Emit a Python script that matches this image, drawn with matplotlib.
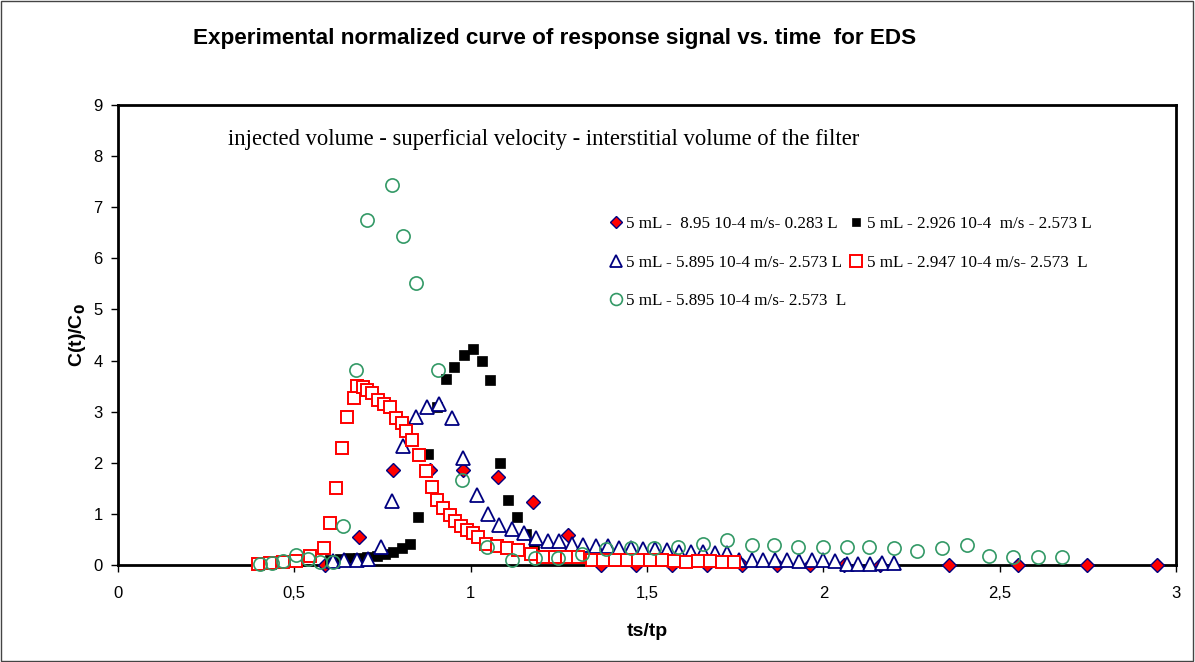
import matplotlib
matplotlib.use("Agg")
import matplotlib.pyplot as plt
from matplotlib.patches import Rectangle
from matplotlib.ticker import FuncFormatter

# ---------------- data ----------------
diam_x = [0.587, 0.683, 0.78, 0.885, 0.979, 1.078, 1.177, 1.277, 1.37, 1.47, 1.57, 1.67,
          1.77, 1.87, 1.962, 2.06, 2.16, 2.356, 2.553, 2.748, 2.947]
diam_y = [0.0, 0.55, 1.85, 1.86, 1.86, 1.73, 1.24, 0.59, 0.0, 0.0, 0.0, 0.0,
          0.0, 0.0, 0.0, 0.0, 0.0, 0.0, 0.0, 0.0, 0.0]

blk_x = [0.60, 0.63, 0.655, 0.68, 0.705, 0.733, 0.757, 0.78, 0.804, 0.828, 0.851, 0.88,
         0.904, 0.93, 0.954, 0.982, 1.006, 1.031, 1.055, 1.083, 1.107, 1.132, 1.157, 1.18]
blk_y = [0.10, 0.12, 0.13, 0.14, 0.15, 0.17, 0.21, 0.26, 0.33, 0.42, 0.94, 2.17,
         3.10, 3.63, 3.87, 4.11, 4.23, 3.99, 3.61, 2.00, 1.27, 0.93, 0.61, 0.40]

tri_x = [0.609, 0.642, 0.677, 0.708, 0.745, 0.778, 0.809, 0.845, 0.875, 0.911, 0.946, 0.979,
         1.017, 1.048, 1.081, 1.116, 1.151, 1.185, 1.218, 1.251, 1.286, 1.319, 1.355, 1.388,
         1.421, 1.456, 1.489, 1.523, 1.557, 1.591, 1.626, 1.659, 1.693, 1.726, 1.762, 1.797,
         1.83, 1.863, 1.898, 1.931, 1.967, 1.998, 2.033, 2.066, 2.099, 2.132, 2.165, 2.2]
tri_y = [0.07, 0.10, 0.10, 0.11, 0.36, 1.26, 2.33, 2.89, 3.10, 3.15, 2.87, 2.09,
         1.37, 0.99, 0.78, 0.70, 0.62, 0.52, 0.46, 0.46, 0.42, 0.40, 0.37, 0.37,
         0.34, 0.34, 0.31, 0.32, 0.29, 0.26, 0.26, 0.26, 0.24, 0.24, 0.10, 0.10,
         0.10, 0.10, 0.10, 0.07, 0.10, 0.10, 0.07, 0.02, 0.02, 0.02, 0.03, 0.03]

rsq_x = [0.398, 0.431, 0.467, 0.505, 0.544, 0.585, 0.601, 0.618, 0.634, 0.65, 0.669, 0.679,
         0.694, 0.707, 0.719, 0.736, 0.754, 0.771, 0.788, 0.804, 0.818, 0.835, 0.854, 0.873,
         0.889, 0.904, 0.921, 0.94, 0.955, 0.974, 0.989, 1.006, 1.022, 1.043, 1.074, 1.104,
         1.135, 1.17, 1.206, 1.239, 1.272, 1.305, 1.343, 1.374, 1.409, 1.442, 1.475, 1.508,
         1.542, 1.577, 1.61, 1.645, 1.678, 1.714, 1.747]
rsq_y = [0.01, 0.03, 0.05, 0.08, 0.17, 0.33, 0.82, 1.51, 2.28, 2.89, 3.26, 3.50,
         3.48, 3.42, 3.37, 3.23, 3.15, 3.09, 2.87, 2.77, 2.63, 2.45, 2.15, 1.83,
         1.53, 1.27, 1.11, 0.98, 0.87, 0.76, 0.68, 0.62, 0.55, 0.42, 0.37, 0.33,
         0.29, 0.22, 0.15, 0.15, 0.15, 0.15, 0.10, 0.10, 0.10, 0.10, 0.10, 0.10,
         0.10, 0.07, 0.05, 0.07, 0.07, 0.05, 0.05]

circ_x = [0.403, 0.436, 0.469, 0.505, 0.538, 0.573, 0.609, 0.637, 0.674, 0.706, 0.777, 0.808,
          0.845, 0.907, 0.975, 1.045, 1.116, 1.182, 1.248, 1.316, 1.385, 1.456, 1.52, 1.589,
          1.658, 1.726, 1.797, 1.86, 1.929, 1.998, 2.066, 2.13, 2.2, 2.267, 2.337, 2.406,
          2.47, 2.538, 2.608, 2.677]
circ_y = [0.01, 0.03, 0.08, 0.20, 0.12, 0.06, 0.06, 0.76, 3.82, 6.75, 7.44, 6.44,
          5.52, 3.82, 1.66, 0.36, 0.10, 0.13, 0.13, 0.22, 0.31, 0.34, 0.34, 0.36,
          0.41, 0.48, 0.39, 0.39, 0.36, 0.36, 0.36, 0.36, 0.33, 0.27, 0.33, 0.39,
          0.18, 0.15, 0.15, 0.15]

labels = ["5 mL -  8.95 10-4 m/s- 0.283 L",
          "5 mL - 2.926 10-4  m/s - 2.573 L",
          "5 mL - 5.895 10-4 m/s- 2.573 L",
          "5 mL - 2.947 10-4 m/s- 2.573  L",
          "5 mL - 5.895 10-4 m/s- 2.573  L"]

x_ticks = [0, 0.5, 1, 1.5, 2, 2.5, 3]
y_ticks = list(range(0, 10))

# ---------------- figure ----------------
plt.rcParams['font.family'] = ['Liberation Sans', 'DejaVu Sans']
fig = plt.figure(figsize=(11.95, 6.62), dpi=100)
ax = fig.add_axes([118 / 1195, 1 - 565 / 662, (1176 - 118) / 1195, (565 - 105) / 662])

navy = "#000080"
red = "#FF0000"
green = "#339966"

h1, = ax.plot(diam_x, diam_y, ls="none", marker="D", ms=7.3, mfc=red, mec=navy, mew=1.0, zorder=3,
              clip_on=False)
h2, = ax.plot(blk_x, blk_y, ls="none", marker="s", ms=6.8, mfc="black", mec="black", mew=0.5, zorder=4,
              clip_on=False)
h3, = ax.plot(tri_x, tri_y, ls="none", marker="^", ms=9.5, mfc="white", mec=navy, mew=1.3, zorder=5,
              clip_on=False)
h4, = ax.plot(rsq_x, rsq_y, ls="none", marker="s", ms=9.3, mfc="white", mec=red, mew=1.4, zorder=6,
              clip_on=False)
h5, = ax.plot(circ_x, circ_y, ls="none", marker="o", ms=9.5, mfc="none", mec=green, mew=1.2, zorder=7,
              clip_on=False)

ax.set_xlim(0, 3)
ax.set_ylim(0, 9)
ax.set_xticks(x_ticks)
ax.set_yticks(y_ticks)
ax.xaxis.set_major_formatter(FuncFormatter(lambda v, p: ("%g" % v).replace(".", ",")))
ax.tick_params(axis="both", direction="out", length=5, width=1, labelsize=12, color="black")
ax.tick_params(axis="x", pad=10)
ax.tick_params(axis="y", pad=6)
for s in ax.spines.values():
    s.set_linewidth(2)
    s.set_color("black")

ax.set_xlabel("ts/tp", fontsize=14, fontweight="bold", labelpad=16)
ax.set_ylabel("C(t)/C$_\\mathbf{0}$", fontsize=14, fontweight="bold", labelpad=4)

fig.text(555 / 1195, 0.942, "Experimental normalized curve of response signal vs. time  for EDS",
         ha="center", va="center", fontsize=16.2, fontweight="bold")

fig.text(228 / 1195, 1 - 139 / 662, "injected volume - superficial velocity - interstitial volume of the filter",
         ha="left", va="center", fontsize=16.3, family="Liberation Serif")

leg = ax.legend([h1, h3, h5, h2, h4], [labels[0], labels[2], labels[4], labels[1], labels[3]],
                ncol=2, frameon=False, loc="upper left", bbox_to_anchor=(0.451, 0.792),
                prop={"family": "Liberation Serif", "size": 12.3}, handlelength=0.6,
                handletextpad=0.3, columnspacing=0.3, labelspacing=1.32, markerscale=0.9)

fig.patches.append(Rectangle((0.0005, 0.001), 0.998, 0.997, transform=fig.transFigure,
                             fill=False, edgecolor="#444444", linewidth=1))

fig.savefig("out.png", dpi=100)
